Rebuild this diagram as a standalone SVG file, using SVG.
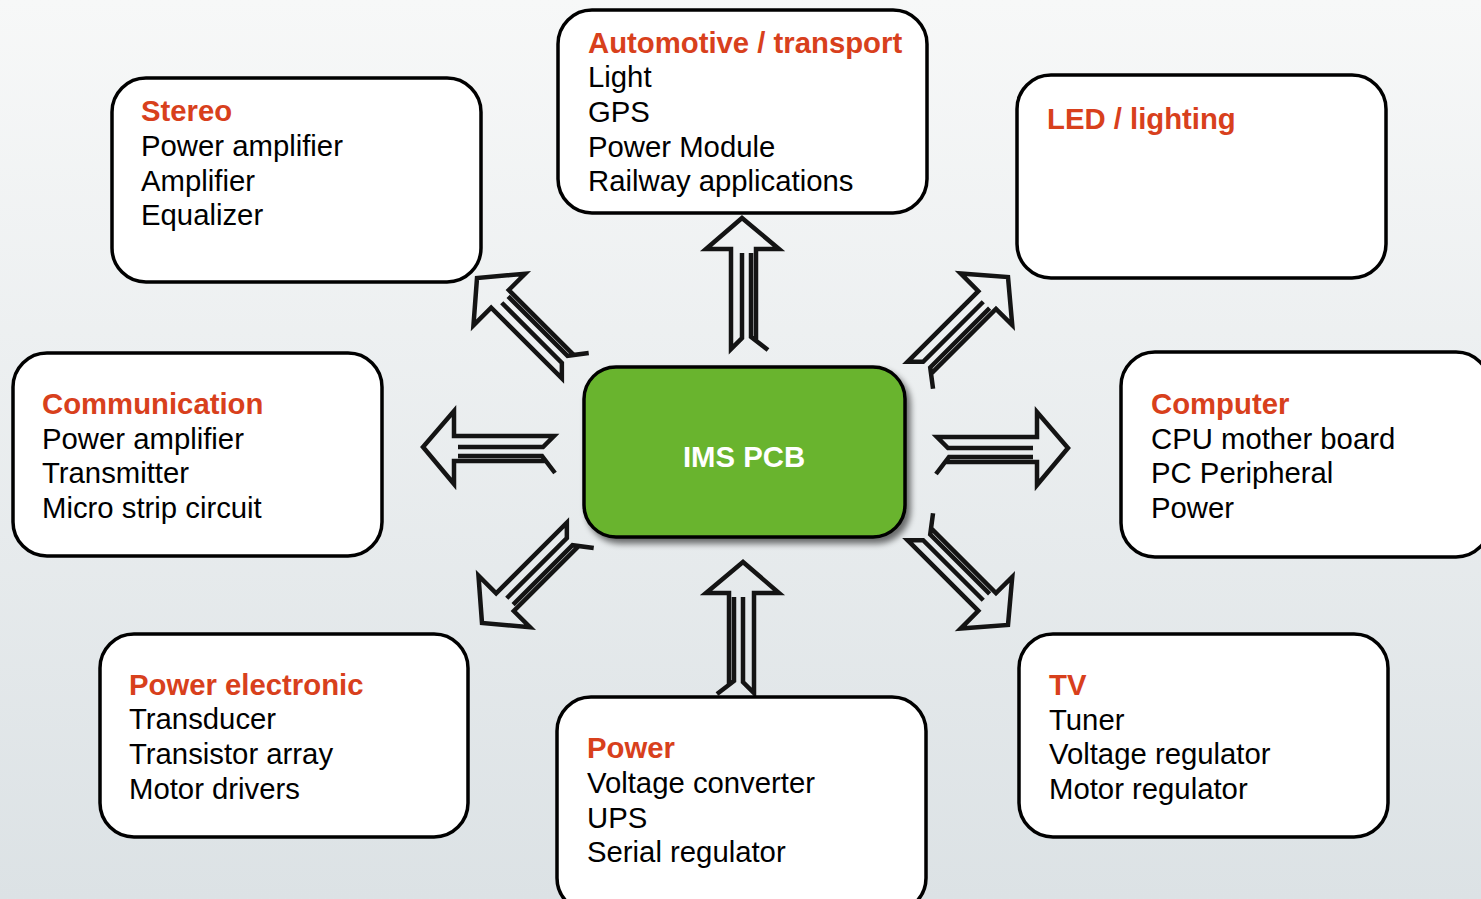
<svg xmlns="http://www.w3.org/2000/svg" width="1481" height="899" viewBox="0 0 1481 899">
  <defs>
    <linearGradient id="bg" x1="0" y1="0" x2="0" y2="1">
      <stop offset="0" stop-color="#f7f8f8"/>
      <stop offset="1" stop-color="#dce2e5"/>
    </linearGradient>
    <filter id="shadow" x="-10%" y="-10%" width="125%" height="130%">
      <feGaussianBlur in="SourceAlpha" stdDeviation="3"/>
      <feOffset dx="4" dy="5" result="b"/>
      <feComponentTransfer><feFuncA type="linear" slope="0.55"/></feComponentTransfer>
      <feMerge><feMergeNode/><feMergeNode in="SourceGraphic"/></feMerge>
    </filter>
    <!-- hollow arrow with split shaft, tip at origin, body along +y -->
    <path id="arrow" d="M0,35 L0,120 L-11,131 L-11,31 L-36,31 L0,0 L37,31 L14,31 L14,123 M9,35 L9,119 L26,132"/>
  </defs>
  <style>
    .box { fill: #ffffff; stroke: #000000; stroke-width: 3.5; }
    .hub { fill: #69b42f; stroke: #000000; stroke-width: 3.5; }
    .title { font-family: "Liberation Sans", Arial, sans-serif; font-size: 29.3px; font-weight: bold; fill: #d8401c; }
    .item { font-family: "Liberation Sans", Arial, sans-serif; font-size: 29.3px; fill: #000000; }
    .hubtext { font-family: "Liberation Sans", Arial, sans-serif; font-size: 29.3px; font-weight: bold; fill: #ffffff; }
    .arw { fill: none; stroke: #141414; stroke-width: 4.5; stroke-linejoin: miter; stroke-linecap: butt; }
  </style>

  <rect x="0" y="0" width="1481" height="899" fill="url(#bg)"/>

  <g id="connectors">
    <use href="#arrow" class="arw" transform="translate(742,218)"/>
    <use href="#arrow" class="arw" transform="translate(743,562) scale(-1,1)"/>
    <use href="#arrow" class="arw" transform="translate(477,278) rotate(-45)"/>
    <use href="#arrow" class="arw" transform="translate(1008,277) rotate(45)"/>
    <use href="#arrow" class="arw" transform="translate(423,447) rotate(-90) scale(-1,1)"/>
    <use href="#arrow" class="arw" transform="translate(1068,448) rotate(90)"/>
    <use href="#arrow" class="arw" transform="translate(482,623) rotate(-135) scale(-1,1)"/>
    <use href="#arrow" class="arw" transform="translate(1008,625) rotate(135) scale(-1,1)"/>
  </g>

  <g id="ims-pcb">
    <rect class="hub" x="584" y="367" width="321" height="170" rx="32" filter="url(#shadow)"/>
    <text class="hubtext" x="744" y="467" text-anchor="middle">IMS PCB</text>
  </g>

  <g id="stereo">
    <rect class="box" x="112" y="78" width="369" height="204" rx="34"/>
    <text class="title" x="141" y="121">Stereo</text>
    <text class="item" x="141" y="156">Power amplifier</text>
    <text class="item" x="141" y="191">Amplifier</text>
    <text class="item" x="141" y="225">Equalizer</text>
  </g>

  <g id="automotive">
    <rect class="box" x="558" y="10" width="369" height="203" rx="34"/>
    <text class="title" x="588" y="53">Automotive / transport</text>
    <text class="item" x="588" y="87">Light</text>
    <text class="item" x="588" y="122">GPS</text>
    <text class="item" x="588" y="157">Power Module</text>
    <text class="item" x="588" y="191">Railway applications</text>
  </g>

  <g id="led">
    <rect class="box" x="1017" y="75" width="369" height="203" rx="34"/>
    <text class="title" x="1047" y="129">LED / lighting</text>
  </g>

  <g id="communication">
    <rect class="box" x="13" y="353" width="369" height="203" rx="34"/>
    <text class="title" x="42" y="414">Communication</text>
    <text class="item" x="42" y="449">Power amplifier</text>
    <text class="item" x="42" y="483">Transmitter</text>
    <text class="item" x="42" y="518">Micro strip circuit</text>
  </g>

  <g id="computer">
    <rect class="box" x="1121" y="352" width="369" height="205" rx="34"/>
    <text class="title" x="1151" y="414">Computer</text>
    <text class="item" x="1151" y="449">CPU mother board</text>
    <text class="item" x="1151" y="483">PC Peripheral</text>
    <text class="item" x="1151" y="518">Power</text>
  </g>

  <g id="power-electronic">
    <rect class="box" x="100" y="634" width="368" height="203" rx="34"/>
    <text class="title" x="129" y="695">Power electronic</text>
    <text class="item" x="129" y="729">Transducer</text>
    <text class="item" x="129" y="764">Transistor array</text>
    <text class="item" x="129" y="799">Motor drivers</text>
  </g>

  <g id="power">
    <rect class="box" x="557" y="697" width="369" height="215" rx="34"/>
    <text class="title" x="587" y="758">Power</text>
    <text class="item" x="587" y="793">Voltage converter</text>
    <text class="item" x="587" y="828">UPS</text>
    <text class="item" x="587" y="862">Serial regulator</text>
  </g>

  <g id="tv">
    <rect class="box" x="1019" y="634" width="369" height="203" rx="34"/>
    <text class="title" x="1049" y="695">TV</text>
    <text class="item" x="1049" y="730">Tuner</text>
    <text class="item" x="1049" y="764">Voltage regulator</text>
    <text class="item" x="1049" y="799">Motor regulator</text>
  </g>
</svg>
